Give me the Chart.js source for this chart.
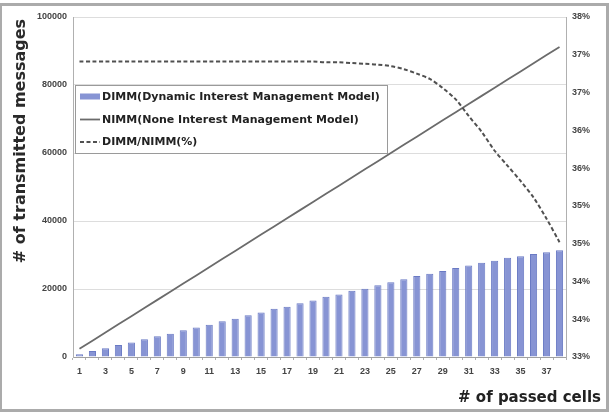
<!DOCTYPE html>
<html><head><meta charset="utf-8">
<script src="https://cdn.jsdelivr.net/npm/chart.js@4"></script>
<style>html,body{margin:0;padding:0;background:#fff}</style>
</head><body>
<canvas id="c" width="611" height="415"></canvas>
<script>
const cells = [1,2,3,4,5,6,7,8,9,10,11,12,13,14,15,16,17,18,19,20,21,22,23,24,25,26,27,28,29,30,31,32,33,34,35,36,37,38];
const dimm = [800,1750,2550,3500,4300,5200,6100,6850,7850,8700,9500,10500,11250,12250,13100,14200,14800,15800,16600,17700,18400,19500,20100,21100,22000,22900,23800,24500,25300,26200,26900,27700,28300,29200,29600,30300,30800,31400];
const nimm = [2400,4800,7200,9600,12000,14400,16800,19200,21600,24000,26400,28800,31200,33600,36000,38400,40800,43200,45600,48000,50400,52800,55200,57600,60000,62400,64800,67200,69600,72000,74400,76800,79200,81600,84000,86400,88800,91200];
const ratio = [36.91,36.91,36.91,36.91,36.91,36.91,36.91,36.91,36.91,36.91,36.91,36.91,36.91,36.91,36.91,36.91,36.91,36.91,36.91,36.90,36.90,36.89,36.88,36.87,36.85,36.81,36.75,36.68,36.56,36.41,36.19,35.98,35.73,35.53,35.33,35.11,34.83,34.52];
const leftRange = [0, 100000, 20000];
const rightRange = [33, 37.5, 0.5];
const seriesNames = ['DIMM(Dynamic Interest Management Model)','NIMM(None Interest Management Model)','DIMM/NIMM(%)'];
const xTitle = '# of passed cells';
const yTitle = '# of transmitted messages';

const tickFont = {family:'"Liberation Sans"', size:9, weight:'bold'};
const PAD_R = 10, TITLE_H = 26;

const decor = {
  id:'decor',
  afterDraw(chart){
    const ctx = chart.ctx, a = chart.chartArea;
    // y axis title
    ctx.save();
    ctx.translate(21, 141);
    ctx.rotate(-Math.PI/2);
    ctx.font = 'bold 16px "DejaVu Sans"';
    ctx.fillStyle = '#2a2a2a'; ctx.textAlign = 'center'; ctx.textBaseline = 'middle';
    ctx.fillText(yTitle, 0, 0);
    ctx.restore();
    // legend box
    ctx.save();
    const lx = a.left + 2, ly = a.top + 68, lw = 312, lh = 68;
    ctx.fillStyle = '#fff'; ctx.fillRect(lx, ly, lw, lh);
    ctx.strokeStyle = '#9a9a9a'; ctx.lineWidth = 1;
    ctx.strokeRect(lx + 0.5, ly + 0.5, lw, lh);
    ctx.font = 'bold 11px "DejaVu Sans"';
    ctx.textBaseline = 'middle'; ctx.textAlign = 'left'; ctx.fillStyle = '#222';
    const ds = chart.data.datasets;
    for (let i = 0; i < 3; i++) {
      const cy = ly + 11.5 + i * 22.5;
      const d = ds[i];
      if (d.type === 'bar') {
        ctx.fillStyle = d.backgroundColor; ctx.fillRect(lx + 5, cy - 3, 20, 6);
      } else {
        ctx.strokeStyle = d.borderColor; ctx.lineWidth = d.borderWidth;
        ctx.setLineDash(d.borderDash || []);
        ctx.beginPath(); ctx.moveTo(lx + 5, cy + 0.5); ctx.lineTo(lx + 25, cy + 0.5); ctx.stroke();
        ctx.setLineDash([]);
      }
      ctx.fillStyle = '#222';
      ctx.fillText(d.label, lx + 27, cy + 1);
    }
    ctx.restore();
    // outer frame
    ctx.save();
    ctx.strokeStyle = '#ababab'; ctx.lineWidth = 3;
    ctx.strokeRect(0.5, 4.5, 607, 406);
    ctx.restore();
  }
};

new Chart(document.getElementById('c'), {
  data: {
    labels: cells,
    datasets: [
      {type:'bar', label: seriesNames[0], data: dimm, yAxisID:'y', order:3,
       backgroundColor:'#8794d4', borderColor:'#6a7ac4', borderWidth:1,
       barPercentage:0.55, categoryPercentage:1.0},
      {type:'line', label: seriesNames[1], data: nimm, yAxisID:'y', order:2,
       borderColor:'#6b6b6b', borderWidth:1.8, pointRadius:0, tension:0, fill:false},
      {type:'line', label: seriesNames[2], data: ratio, yAxisID:'y1', order:1,
       borderColor:'#505050', borderWidth:2, borderDash:[4,2.5], pointRadius:0, tension:0.3, fill:false}
    ]
  },
  options: {
    responsive:false, animation:false, devicePixelRatio:1,
    layout:{padding:{top:17, left:0, right:PAD_R, bottom:0}},
    plugins:{
      legend:{display:false}, tooltip:{enabled:false},
      title:{display:true, text:xTitle, position:'bottom', align:'end',
             font:{family:'"DejaVu Sans"', size:15, weight:'bold'}, color:'#222',
             padding:{top:0, bottom:8}}
    },
    scales:{
      x:{type:'category', offset:true,
         grid:{display:true, drawOnChartArea:false, offset:true, tickLength:3, color:'#b0b0b0'},
         border:{color:'#a0a0a0'},
         ticks:{autoSkip:false, maxRotation:0, font:tickFont, color:'#444', padding:6,
                callback:(v,i)=> i % 2 === 0 ? String(cells[i]) : ''},
         afterFit:s=>{ s.height = 415 - TITLE_H - 357; }},
      y:{position:'left', min:leftRange[0], max:leftRange[1],
         ticks:{stepSize:leftRange[2], font:tickFont, color:'#444', padding:6, callback:v=>String(v)},
         grid:{color:'#dddddd', drawTicks:false},
         border:{color:'#b0b0b0'},
         afterFit:s=>{ s.width = 73; }},
      y1:{position:'right', min:rightRange[0], max:rightRange[1],
         ticks:{stepSize:rightRange[2], font:tickFont, color:'#444', padding:6, callback:v=>Math.round(v)+'%'},
         grid:{drawOnChartArea:false, drawTicks:false},
         border:{color:'#b0b0b0'},
         afterFit:s=>{ s.width = 611 - PAD_R - 566; }}
    }
  },
  plugins:[decor]
});
</script>
</body></html>
